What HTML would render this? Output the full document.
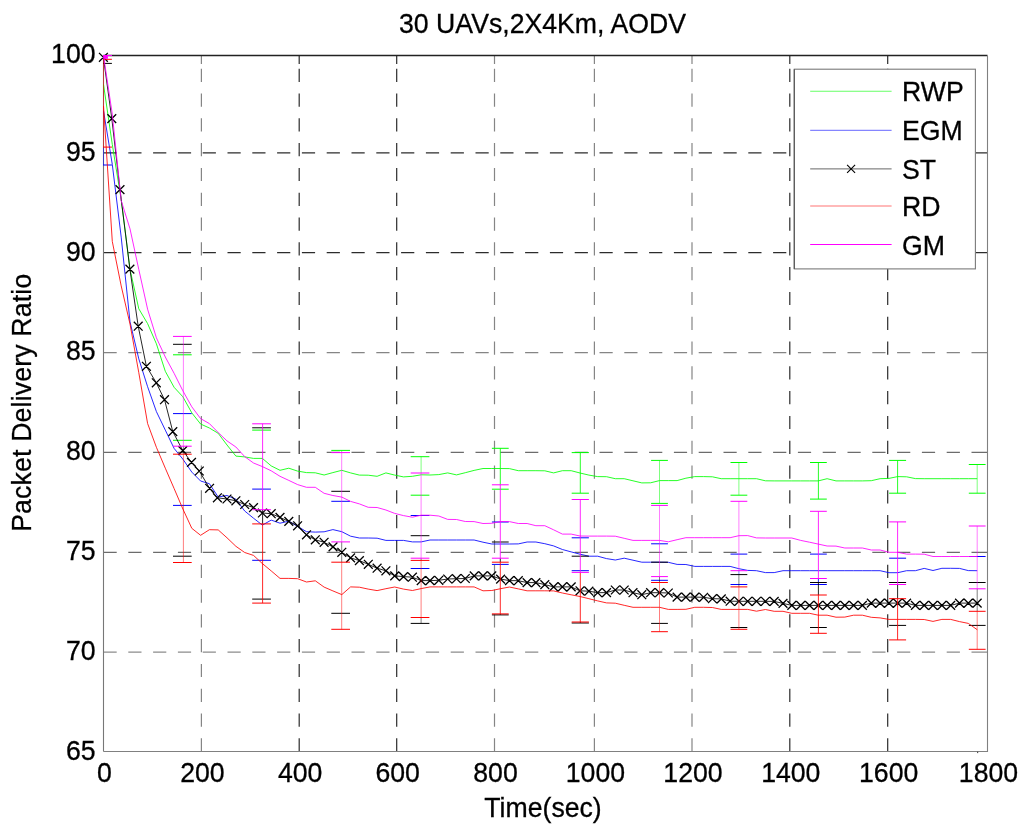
<!DOCTYPE html>
<html lang="en"><head><meta charset="utf-8"><title>30 UAVs,2X4Km, AODV</title>
<style>html,body{margin:0;padding:0;background:#fff}svg{display:block}text{font-family:"Liberation Sans",Arial,sans-serif;font-size:27.5px;fill:#000;stroke:#000;stroke-width:0.3px}</style></head><body>
<svg width="1024" height="826" viewBox="0 0 1024 826">
<rect width="1024" height="826" fill="#fff"/>
<defs><clipPath id="cp"><rect x="103.0" y="55.0" width="885.0" height="697.0"/></clipPath></defs>
<g fill="none" stroke-width="1.2" stroke-dasharray="13.2 11.6">
<path d="M201.4 751.5V66M201.4 64V55.5" stroke="#858585"/>
<path d="M299.2 751.5V66M299.2 64V55.5" stroke="#2c2c2c"/>
<path d="M396.7 751.5V66M396.7 64V55.5" stroke="#2c2c2c"/>
<path d="M494.5 751.5V66M494.5 64V55.5" stroke="#858585"/>
<path d="M594.4 751.5V66M594.4 64V55.5" stroke="#858585"/>
<path d="M692.0 751.5V66M692.0 64V55.5" stroke="#858585"/>
<path d="M789.8 751.5V66M789.8 64V55.5" stroke="#2c2c2c"/>
<path d="M887.7 751.5V66M887.7 64V55.5" stroke="#2c2c2c"/>
<path d="M103.5 152.9H984M984 152.9H987.5" stroke="#2c2c2c"/>
<path d="M103.5 252.7H984M984 252.7H987.5" stroke="#2c2c2c"/>
<path d="M103.5 352.7H984M984 352.7H987.5" stroke="#858585"/>
<path d="M103.5 452.4H984M984 452.4H987.5" stroke="#6c6c6c"/>
<path d="M103.5 552.4H984M984 552.4H987.5" stroke="#6c6c6c"/>
<path d="M103.5 652.1H984M984 652.1H987.5" stroke="#8c8c8c"/>
</g>
<g fill="none" stroke-width="1.1">
<path d="M103.5 55.5H987.5" stroke="#222" stroke-width="1.4"/>
<path d="M103.5 55.5V751.5" stroke="#777"/>
<path d="M987.5 55.5V751.5H103.5" stroke="#808080"/>
</g>
<rect x="977" y="751.5" width="1.2" height="1.6" fill="#555"/>
<g fill="none" stroke="#00ff00" stroke-width="0.85" stroke-linejoin="round">
<path d="M103.5 84.4 L112.3 144.5 L121.2 199.8 L130.0 269.4 L138.8 308.8 L147.6 323.6 L156.4 343.8 L165.3 371.3 L174.1 387.3 L182.9 396.8 L191.8 412.9 L200.6 424.0 L209.4 428.0 L218.2 433.3 L227.0 445.0 L235.9 456.1 L244.7 456.9 L253.5 458.4 L262.4 458.4 L271.2 465.9 L280.0 470.3 L288.8 468.2 L297.6 471.1 L306.5 472.6 L315.3 472.8 L324.1 475.0 L332.9 472.6 L341.8 470.3 L350.6 472.9 L359.4 475.1 L368.2 475.2 L377.1 476.3 L385.9 472.9 L394.7 475.1 L403.5 476.9 L412.4 476.3 L421.2 474.8 L430.0 475.0 L438.8 474.6 L447.7 472.9 L456.5 474.9 L465.3 472.7 L474.1 470.4 L483.0 468.5 L491.8 468.5 L500.6 468.5 L509.4 468.6 L518.3 470.7 L527.1 470.7 L535.9 470.7 L544.8 470.8 L553.6 472.9 L562.4 470.7 L571.2 470.7 L580.0 473.0 L588.9 475.1 L597.7 476.6 L606.5 476.7 L615.3 478.7 L624.2 478.7 L633.0 480.8 L641.8 482.9 L650.6 482.8 L659.5 480.6 L668.3 480.6 L677.1 480.6 L685.9 478.2 L694.8 476.6 L703.6 476.6 L712.4 476.8 L721.2 478.7 L730.1 478.7 L738.9 478.7 L747.7 478.7 L756.5 478.7 L765.4 480.8 L774.2 480.9 L783.0 480.9 L791.8 480.9 L800.7 480.9 L809.5 480.9 L818.3 480.9 L827.1 478.7 L836.0 480.9 L844.8 480.9 L853.6 480.9 L862.4 480.9 L871.3 480.7 L880.1 478.7 L888.9 478.4 L897.7 476.6 L906.6 476.8 L915.4 478.6 L924.2 478.7 L933.0 478.7 L941.9 478.7 L950.7 478.7 L959.5 478.7 L968.3 478.7 L977.2 478.7"/>
<path clip-path="url(#cp)" stroke-width="1" d="M173.0 354.8H191.7M173.0 440.3H191.7M252.2 430.1H270.9M331.3 450.4H350.0M410.7 456.7H429.4M410.7 495.2H429.4M491.9 448.3H508.7M491.9 489.2H508.7M571.7 452.6H588.9M571.7 493.2H588.9M651.1 460.4H667.9M651.1 503.4H667.9M730.5 462.5H747.3M730.5 495.2H747.3M810.0 462.5H826.8M810.0 499.1H826.8M889.1 460.4H906.1M889.1 493.2H906.1M968.8 464.5H985.6M968.8 493.2H985.6"/>
<path clip-path="url(#cp)" d="M500.3 448.3V484.8M580.3 452.6V493.2M818.4 462.5V499.1M897.6 460.4V493.2"/>
<path clip-path="url(#cp)" stroke-opacity="0.6" d="M341.7 450.4V452.6M421.1 456.7V473.0M659.5 460.4V503.4M738.9 462.5V495.2M977.2 464.5V493.2"/>
</g>
<g fill="none" stroke="#0000ff" stroke-width="0.85" stroke-linejoin="round">
<path d="M103.5 110.7 L112.3 164.5 L121.2 237.1 L130.0 321.8 L138.8 358.9 L147.6 386.7 L156.4 411.6 L165.3 430.1 L174.1 448.4 L182.9 459.2 L191.8 472.1 L200.6 481.0 L209.4 483.7 L218.2 497.0 L227.0 495.5 L235.9 499.2 L244.7 511.0 L253.5 518.2 L262.4 525.1 L271.2 520.1 L280.0 523.2 L288.8 521.2 L297.6 526.4 L306.5 531.7 L315.3 532.1 L324.1 531.8 L332.9 529.6 L341.8 531.7 L350.6 536.2 L359.4 538.0 L368.2 538.0 L377.1 538.2 L385.9 540.4 L394.7 540.4 L403.5 540.4 L412.4 541.9 L421.2 541.9 L430.0 540.0 L438.8 540.0 L447.7 540.0 L456.5 540.0 L465.3 540.0 L474.1 540.0 L483.0 542.2 L491.8 544.0 L500.6 544.0 L509.4 544.0 L518.3 543.9 L527.1 542.0 L535.9 542.0 L544.8 543.7 L553.6 545.9 L562.4 549.5 L571.2 551.9 L580.0 554.2 L588.9 556.2 L597.7 556.2 L606.5 558.6 L615.3 560.0 L624.2 558.2 L633.0 560.2 L641.8 562.2 L650.6 562.2 L659.5 562.2 L668.3 562.3 L677.1 564.4 L685.9 564.5 L694.8 566.4 L703.6 566.4 L712.4 566.4 L721.2 566.4 L730.1 566.4 L738.9 568.7 L747.7 570.4 L756.5 570.7 L765.4 572.6 L774.2 572.6 L783.0 570.7 L791.8 570.7 L800.7 570.7 L809.5 570.7 L818.3 570.7 L827.1 570.7 L836.0 570.7 L844.8 570.7 L853.6 570.7 L862.4 570.7 L871.3 570.7 L880.1 570.7 L888.9 572.7 L897.7 572.7 L906.6 570.7 L915.4 570.7 L924.2 568.4 L933.0 570.5 L941.9 568.3 L950.7 568.3 L959.5 568.4 L968.3 570.6 L977.2 570.7"/>
<path clip-path="url(#cp)" stroke-width="1" d="M95.1 165.0H111.9M173.0 413.6H191.7M173.0 505.4H191.7M252.2 489.1H270.9M252.2 560.3H270.9M331.3 501.3H350.0M410.7 515.5H429.4M410.7 568.5H429.4M491.9 522.0H508.7M491.9 564.4H508.7M571.7 537.8H588.9M571.7 570.7H588.9M651.1 543.8H667.9M651.1 580.3H667.9M730.5 554.1H747.3M730.5 584.5H747.3M810.0 554.1H826.8M810.0 584.5H826.8M889.1 558.2H906.1M968.8 556.5H985.6"/>
<path clip-path="url(#cp)" d="M818.4 578.5V582.5"/>
<path clip-path="url(#cp)" stroke-opacity="0.6" d="M103.5 40.0V51.2M103.5 147.1V165.0M738.9 570.7V574.6"/>
</g>
<g fill="none" stroke="#000000" stroke-width="0.85" stroke-linejoin="round">
<path d="M103.4 57.3 L111.8 118.6 L120.0 189.6 L129.9 269.1 L138.2 326.2 L146.4 366.3 L156.3 382.8 L164.5 399.7 L172.8 431.6 L182.8 450.6 L191.5 462.4 L199.3 471.0 L209.6 488.3 L217.4 497.8 L227.0 499.0 L235.9 500.8 L244.7 504.5 L253.5 507.6 L262.4 513.0 L271.2 513.7 L280.0 517.4 L288.8 521.4 L297.6 525.8 L306.5 534.8 L315.3 539.8 L324.1 542.3 L332.9 546.9 L341.8 552.3 L350.6 557.9 L359.4 560.6 L368.2 564.3 L377.1 568.2 L385.9 570.8 L394.7 575.9 L403.5 576.6 L412.4 577.2 L421.2 580.6 L430.0 580.6 L438.8 580.3 L447.7 579.0 L456.5 578.7 L465.3 578.5 L474.1 575.9 L483.0 575.9 L491.8 575.9 L500.6 579.1 L509.4 580.6 L518.3 580.7 L527.1 582.6 L535.9 582.6 L544.8 584.6 L553.6 586.9 L562.4 586.9 L571.2 586.9 L580.0 590.8 L588.9 591.2 L597.7 592.7 L606.5 592.6 L615.3 590.0 L624.2 590.0 L633.0 592.7 L641.8 594.7 L650.6 592.7 L659.5 592.7 L668.3 593.0 L677.1 597.1 L685.9 597.1 L694.8 597.1 L703.6 597.3 L712.4 598.7 L721.2 598.9 L730.1 601.2 L738.9 601.3 L747.7 601.3 L756.5 601.3 L765.4 601.3 L774.2 601.4 L783.0 603.4 L791.8 605.4 L800.7 605.4 L809.5 605.4 L818.3 605.4 L827.1 605.4 L836.0 605.4 L844.8 605.4 L853.6 605.4 L862.4 605.4 L871.3 603.1 L880.1 603.1 L888.9 603.1 L897.7 603.1 L906.6 603.1 L915.4 605.4 L924.2 605.4 L933.0 605.4 L941.9 605.4 L950.7 605.4 L959.5 603.1 L968.3 603.1 L977.2 603.1"/>
<path d="M99.0 52.9l8.8 8.8M99.0 61.7l8.8 -8.8M107.4 114.2l8.8 8.8M107.4 123.0l8.8 -8.8M115.6 185.2l8.8 8.8M115.6 194.0l8.8 -8.8M125.5 264.7l8.8 8.8M125.5 273.5l8.8 -8.8M133.8 321.8l8.8 8.8M133.8 330.6l8.8 -8.8M142.0 361.9l8.8 8.8M142.0 370.7l8.8 -8.8M151.9 378.4l8.8 8.8M151.9 387.2l8.8 -8.8M160.1 395.3l8.8 8.8M160.1 404.1l8.8 -8.8M168.4 427.2l8.8 8.8M168.4 436.0l8.8 -8.8M178.4 446.2l8.8 8.8M178.4 455.0l8.8 -8.8M187.1 458.0l8.8 8.8M187.1 466.8l8.8 -8.8M194.9 466.6l8.8 8.8M194.9 475.4l8.8 -8.8M205.2 483.9l8.8 8.8M205.2 492.7l8.8 -8.8M213.0 493.4l8.8 8.8M213.0 502.2l8.8 -8.8M222.6 494.6l8.8 8.8M222.6 503.4l8.8 -8.8M231.5 496.4l8.8 8.8M231.5 505.2l8.8 -8.8M240.3 500.1l8.8 8.8M240.3 508.9l8.8 -8.8M249.1 503.2l8.8 8.8M249.1 512.0l8.8 -8.8M258.0 508.6l8.8 8.8M258.0 517.4l8.8 -8.8M266.8 509.3l8.8 8.8M266.8 518.1l8.8 -8.8M275.6 513.0l8.8 8.8M275.6 521.8l8.8 -8.8M284.4 517.0l8.8 8.8M284.4 525.8l8.8 -8.8M293.2 521.4l8.8 8.8M293.2 530.2l8.8 -8.8M302.1 530.4l8.8 8.8M302.1 539.2l8.8 -8.8M310.9 535.4l8.8 8.8M310.9 544.2l8.8 -8.8M319.7 537.9l8.8 8.8M319.7 546.7l8.8 -8.8M328.6 542.5l8.8 8.8M328.6 551.3l8.8 -8.8M337.4 547.9l8.8 8.8M337.4 556.7l8.8 -8.8M346.2 553.5l8.8 8.8M346.2 562.3l8.8 -8.8M355.0 556.2l8.8 8.8M355.0 565.0l8.8 -8.8M363.9 559.9l8.8 8.8M363.9 568.7l8.8 -8.8M372.7 563.8l8.8 8.8M372.7 572.6l8.8 -8.8M381.5 566.4l8.8 8.8M381.5 575.2l8.8 -8.8M390.3 571.5l8.8 8.8M390.3 580.3l8.8 -8.8M399.1 572.2l8.8 8.8M399.1 581.0l8.8 -8.8M408.0 572.8l8.8 8.8M408.0 581.6l8.8 -8.8M416.8 576.2l8.8 8.8M416.8 585.0l8.8 -8.8M425.6 576.2l8.8 8.8M425.6 585.0l8.8 -8.8M434.4 575.9l8.8 8.8M434.4 584.7l8.8 -8.8M443.3 574.6l8.8 8.8M443.3 583.4l8.8 -8.8M452.1 574.3l8.8 8.8M452.1 583.1l8.8 -8.8M460.9 574.1l8.8 8.8M460.9 582.9l8.8 -8.8M469.8 571.5l8.8 8.8M469.8 580.3l8.8 -8.8M478.6 571.5l8.8 8.8M478.6 580.3l8.8 -8.8M487.4 571.5l8.8 8.8M487.4 580.3l8.8 -8.8M496.2 574.7l8.8 8.8M496.2 583.5l8.8 -8.8M505.1 576.2l8.8 8.8M505.1 585.0l8.8 -8.8M513.9 576.3l8.8 8.8M513.9 585.1l8.8 -8.8M522.7 578.2l8.8 8.8M522.7 587.0l8.8 -8.8M531.5 578.2l8.8 8.8M531.5 587.0l8.8 -8.8M540.4 580.2l8.8 8.8M540.4 589.0l8.8 -8.8M549.2 582.5l8.8 8.8M549.2 591.3l8.8 -8.8M558.0 582.5l8.8 8.8M558.0 591.3l8.8 -8.8M566.8 582.5l8.8 8.8M566.8 591.3l8.8 -8.8M575.6 586.4l8.8 8.8M575.6 595.2l8.8 -8.8M584.5 586.8l8.8 8.8M584.5 595.6l8.8 -8.8M593.3 588.3l8.8 8.8M593.3 597.1l8.8 -8.8M602.1 588.2l8.8 8.8M602.1 597.0l8.8 -8.8M610.9 585.6l8.8 8.8M610.9 594.4l8.8 -8.8M619.8 585.6l8.8 8.8M619.8 594.4l8.8 -8.8M628.6 588.3l8.8 8.8M628.6 597.1l8.8 -8.8M637.4 590.3l8.8 8.8M637.4 599.1l8.8 -8.8M646.2 588.3l8.8 8.8M646.2 597.1l8.8 -8.8M655.1 588.3l8.8 8.8M655.1 597.1l8.8 -8.8M663.9 588.6l8.8 8.8M663.9 597.4l8.8 -8.8M672.7 592.7l8.8 8.8M672.7 601.5l8.8 -8.8M681.5 592.7l8.8 8.8M681.5 601.5l8.8 -8.8M690.4 592.7l8.8 8.8M690.4 601.5l8.8 -8.8M699.2 592.9l8.8 8.8M699.2 601.7l8.8 -8.8M708.0 594.3l8.8 8.8M708.0 603.1l8.8 -8.8M716.9 594.5l8.8 8.8M716.9 603.3l8.8 -8.8M725.7 596.8l8.8 8.8M725.7 605.6l8.8 -8.8M734.5 596.9l8.8 8.8M734.5 605.7l8.8 -8.8M743.3 596.9l8.8 8.8M743.3 605.7l8.8 -8.8M752.1 596.9l8.8 8.8M752.1 605.7l8.8 -8.8M761.0 596.9l8.8 8.8M761.0 605.7l8.8 -8.8M769.8 597.0l8.8 8.8M769.8 605.8l8.8 -8.8M778.6 599.0l8.8 8.8M778.6 607.8l8.8 -8.8M787.4 601.0l8.8 8.8M787.4 609.8l8.8 -8.8M796.3 601.0l8.8 8.8M796.3 609.8l8.8 -8.8M805.1 601.0l8.8 8.8M805.1 609.8l8.8 -8.8M813.9 601.0l8.8 8.8M813.9 609.8l8.8 -8.8M822.8 601.0l8.8 8.8M822.8 609.8l8.8 -8.8M831.6 601.0l8.8 8.8M831.6 609.8l8.8 -8.8M840.4 601.0l8.8 8.8M840.4 609.8l8.8 -8.8M849.2 601.0l8.8 8.8M849.2 609.8l8.8 -8.8M858.0 601.0l8.8 8.8M858.0 609.8l8.8 -8.8M866.9 598.7l8.8 8.8M866.9 607.5l8.8 -8.8M875.7 598.7l8.8 8.8M875.7 607.5l8.8 -8.8M884.5 598.7l8.8 8.8M884.5 607.5l8.8 -8.8M893.3 598.7l8.8 8.8M893.3 607.5l8.8 -8.8M902.2 598.7l8.8 8.8M902.2 607.5l8.8 -8.8M911.0 601.0l8.8 8.8M911.0 609.8l8.8 -8.8M919.8 601.0l8.8 8.8M919.8 609.8l8.8 -8.8M928.6 601.0l8.8 8.8M928.6 609.8l8.8 -8.8M937.5 601.0l8.8 8.8M937.5 609.8l8.8 -8.8M946.3 601.0l8.8 8.8M946.3 609.8l8.8 -8.8M955.1 598.7l8.8 8.8M955.1 607.5l8.8 -8.8M963.9 598.7l8.8 8.8M963.9 607.5l8.8 -8.8M972.8 598.7l8.8 8.8M972.8 607.5l8.8 -8.8" stroke-width="1.3"/>
<path clip-path="url(#cp)" stroke-width="1" d="M95.1 63.4H111.9M173.0 344.3H191.7M173.0 556.2H191.7M252.2 427.8H270.9M252.2 599.1H270.9M331.3 491.3H350.0M331.3 613.3H350.0M410.7 535.7H429.4M410.7 623.4H429.4M491.9 542.0H508.7M491.9 614.9H508.7M571.7 556.2H588.9M571.7 623.0H588.9M651.1 562.2H667.9M651.1 623.4H667.9M730.5 574.6H747.3M730.5 627.5H747.3M810.0 582.5H826.8M810.0 627.5H826.8M889.1 582.5H906.1M889.1 625.4H906.1M968.8 582.5H985.6M968.8 625.4H985.6"/>
<path clip-path="url(#cp)" d="M262.6 509.7V523.9M500.3 558.2V562.2M500.3 613.9V614.9M580.3 622.0V623.0M818.4 582.5V595.0M897.6 584.5V598.7"/>
<path clip-path="url(#cp)" stroke-opacity="0.6" d="M103.5 51.2V59.3M183.4 446.2V454.2M341.7 541.9V562.2M421.1 558.2V560.4M421.1 617.5V623.4M659.5 576.6V582.5M738.9 574.6V586.9M977.2 588.8V611.3"/>
</g>
<g fill="none" stroke="#ff0000" stroke-width="0.85" stroke-linejoin="round">
<path d="M103.5 106.0 L112.3 241.5 L121.2 285.9 L130.0 324.0 L138.8 372.7 L147.6 423.5 L156.4 447.3 L165.3 468.2 L174.1 488.5 L182.9 509.0 L191.8 528.3 L200.6 535.3 L209.4 529.7 L218.2 529.9 L227.0 537.8 L235.9 546.3 L244.7 552.5 L253.5 555.4 L262.4 563.6 L271.2 570.9 L280.0 578.4 L288.8 578.4 L297.6 578.7 L306.5 582.0 L315.3 580.8 L324.1 587.1 L332.9 590.9 L341.8 594.6 L350.6 586.9 L359.4 587.2 L368.2 589.1 L377.1 590.6 L385.9 588.7 L394.7 587.0 L403.5 589.1 L412.4 590.5 L421.2 588.6 L430.0 586.9 L438.8 586.9 L447.7 586.9 L456.5 586.9 L465.3 586.9 L474.1 586.9 L483.0 590.8 L491.8 590.5 L500.6 588.7 L509.4 587.0 L518.3 588.9 L527.1 590.8 L535.9 590.8 L544.8 590.8 L553.6 590.9 L562.4 593.0 L571.2 594.8 L580.0 596.5 L588.9 598.7 L597.7 600.9 L606.5 602.9 L615.3 603.2 L624.2 605.3 L633.0 607.3 L641.8 607.3 L650.6 607.3 L659.5 607.3 L668.3 609.4 L677.1 609.4 L685.9 609.3 L694.8 607.3 L703.6 607.3 L712.4 607.5 L721.2 609.4 L730.1 609.4 L738.9 609.4 L747.7 609.4 L756.5 611.2 L765.4 609.5 L774.2 611.3 L783.0 611.3 L791.8 613.3 L800.7 613.3 L809.5 613.3 L818.3 615.2 L827.1 615.2 L836.0 617.2 L844.8 617.1 L853.6 615.2 L862.4 615.2 L871.3 617.3 L880.1 617.9 L888.9 619.4 L897.7 619.4 L906.6 619.4 L915.4 619.4 L924.2 619.5 L933.0 621.4 L941.9 619.4 L950.7 619.4 L959.5 621.6 L968.3 623.4 L977.2 629.7"/>
<path clip-path="url(#cp)" stroke-width="1" d="M95.1 59.3H111.9M95.1 147.1H111.9M173.0 454.2H191.7M173.0 562.5H191.7M252.2 523.9H270.9M252.2 603.1H270.9M331.3 562.2H350.0M331.3 629.3H350.0M410.7 560.4H429.4M410.7 617.5H429.4M491.9 562.2H508.7M491.9 613.9H508.7M571.7 622.0H588.9M651.1 582.5H667.9M651.1 631.7H667.9M730.5 586.9H747.3M730.5 629.3H747.3M810.0 595.0H826.8M810.0 633.3H826.8M889.1 598.7H906.1M889.1 639.9H906.1M968.8 611.3H985.6M968.8 649.3H985.6"/>
<path clip-path="url(#cp)" d="M262.6 523.9V603.1M500.3 562.2V613.9M580.3 572.4V622.0M818.4 595.0V633.3M897.6 598.7V639.9"/>
<path clip-path="url(#cp)" stroke-opacity="0.6" d="M103.5 59.3V147.1M183.4 454.2V562.5M341.7 562.2V629.3M421.1 560.4V617.5M659.5 582.5V631.7M738.9 586.9V629.3M977.2 611.3V649.3"/>
</g>
<g fill="none" stroke="#ff00ff" stroke-width="0.85" stroke-linejoin="round">
<path d="M103.5 55.5 L112.3 114.3 L121.2 200.6 L130.0 228.8 L138.8 269.5 L147.6 309.2 L156.4 337.8 L165.3 357.0 L174.1 373.3 L182.9 390.9 L191.8 406.8 L200.6 418.6 L209.4 423.6 L218.2 432.5 L227.0 440.9 L235.9 447.0 L244.7 456.6 L253.5 463.0 L262.4 466.6 L271.2 470.8 L280.0 476.3 L288.8 480.4 L297.6 484.6 L306.5 487.3 L315.3 487.3 L324.1 493.3 L332.9 495.5 L341.8 497.1 L350.6 501.4 L359.4 503.9 L368.2 507.3 L377.1 507.5 L385.9 510.0 L394.7 513.4 L403.5 515.6 L412.4 517.2 L421.2 515.2 L430.0 515.2 L438.8 516.0 L447.7 519.4 L456.5 519.5 L465.3 521.5 L474.1 521.6 L483.0 523.5 L491.8 523.3 L500.6 521.5 L509.4 521.6 L518.3 523.5 L527.1 523.5 L535.9 525.7 L544.8 525.7 L553.6 529.8 L562.4 534.1 L571.2 534.1 L580.0 536.0 L588.9 536.1 L597.7 536.1 L606.5 536.1 L615.3 536.2 L624.2 538.3 L633.0 540.4 L641.8 540.4 L650.6 540.4 L659.5 540.4 L668.3 541.8 L677.1 539.7 L685.9 537.7 L694.8 537.7 L703.6 537.7 L712.4 537.7 L721.2 537.7 L730.1 537.7 L738.9 535.7 L747.7 535.6 L756.5 537.9 L765.4 538.0 L774.2 538.0 L783.0 538.0 L791.8 538.0 L800.7 540.4 L809.5 542.2 L818.3 544.1 L827.1 546.0 L836.0 546.1 L844.8 548.0 L853.6 548.0 L862.4 548.0 L871.3 550.0 L880.1 550.0 L888.9 552.3 L897.7 552.3 L906.6 554.1 L915.4 554.1 L924.2 554.2 L933.0 556.5 L941.9 556.5 L950.7 556.5 L959.5 556.5 L968.3 556.5 L977.2 556.5"/>
<path clip-path="url(#cp)" stroke-width="1" d="M95.1 55.5H111.9M95.1 55.5H111.9M173.0 336.4H191.7M173.0 446.2H191.7M252.2 423.8H270.9M252.2 509.7H270.9M331.3 452.6H350.0M331.3 541.9H350.0M410.7 473.0H429.4M410.7 558.2H429.4M491.9 484.8H508.7M491.9 558.2H508.7M571.7 499.5H588.9M571.7 572.4H588.9M651.1 505.4H667.9M651.1 576.6H667.9M730.5 501.3H747.3M730.5 570.7H747.3M810.0 511.3H826.8M810.0 578.5H826.8M889.1 521.9H906.1M889.1 584.5H906.1M968.8 526.0H985.6M968.8 588.8H985.6"/>
<path clip-path="url(#cp)" d="M262.6 423.8V509.7M500.3 484.8V558.2M580.3 499.5V572.4M818.4 511.3V578.5M897.6 521.9V584.5"/>
<path clip-path="url(#cp)" stroke-opacity="0.6" d="M183.4 336.4V446.2M341.7 452.6V541.9M421.1 473.0V558.2M659.5 505.4V576.6M738.9 501.3V570.7M977.2 526.0V588.8"/>
</g>
<rect x="103.5" y="55.2" width="4.4" height="3.6" fill="#ff00ff"/>
<rect x="794.3" y="69.2" width="181.1" height="199.7" fill="#fff" stroke="#7a7a7a" stroke-width="1.1"/>
<path d="M810.2 91.25H891.6" stroke="#00ff00" stroke-width="1" stroke-opacity="0.6" fill="none"/>
<text transform="translate(902.0 101.3) scale(0.9698 1)" text-anchor="start">RWP</text>
<path d="M810.2 130.30H891.6" stroke="#0000ff" stroke-width="1" stroke-opacity="0.6" fill="none"/>
<text transform="translate(902.0 140.4) scale(0.9698 1)" text-anchor="start">EGM</text>
<path d="M810.2 168.90H891.6" stroke="#000000" stroke-width="1" stroke-opacity="0.6" fill="none"/>
<path d="M847.1 164.9l8.0 8.0M847.1 172.9l8.0 -8.0" stroke="#000" stroke-width="1.1" fill="none"/>
<text transform="translate(902.0 179.0) scale(0.9698 1)" text-anchor="start">ST</text>
<path d="M810.2 206.00H891.6" stroke="#ff0000" stroke-width="1" stroke-opacity="0.55" fill="none"/>
<text transform="translate(902.0 216.1) scale(0.9698 1)" text-anchor="start">RD</text>
<path d="M810.2 244.50H891.6" stroke="#ff00ff" stroke-width="1" stroke-opacity="1" fill="none"/>
<text transform="translate(902.0 254.6) scale(0.9698 1)" text-anchor="start">GM</text>
<path d="M794.3 69.2V268.9" stroke="#5a5a5a" stroke-width="1.2" fill="none"/>
<text transform="translate(104.5 782.3) scale(0.9698 1)" text-anchor="middle">0</text>
<text transform="translate(202.4 782.3) scale(0.9698 1)" text-anchor="middle">200</text>
<text transform="translate(300.2 782.3) scale(0.9698 1)" text-anchor="middle">400</text>
<text transform="translate(397.7 782.3) scale(0.9698 1)" text-anchor="middle">600</text>
<text transform="translate(495.5 782.3) scale(0.9698 1)" text-anchor="middle">800</text>
<text transform="translate(595.4 782.3) scale(0.9698 1)" text-anchor="middle">1000</text>
<text transform="translate(693.0 782.3) scale(0.9698 1)" text-anchor="middle">1200</text>
<text transform="translate(790.8 782.3) scale(0.9698 1)" text-anchor="middle">1400</text>
<text transform="translate(888.7 782.3) scale(0.9698 1)" text-anchor="middle">1600</text>
<text transform="translate(988.5 782.3) scale(0.9698 1)" text-anchor="middle">1800</text>
<text transform="translate(95.6 63.1) scale(0.9698 1)" text-anchor="end">100</text>
<text transform="translate(95.6 160.8) scale(0.9698 1)" text-anchor="end">95</text>
<text transform="translate(95.6 260.9) scale(0.9698 1)" text-anchor="end">90</text>
<text transform="translate(95.6 360.2) scale(0.9698 1)" text-anchor="end">85</text>
<text transform="translate(95.6 460.2) scale(0.9698 1)" text-anchor="end">80</text>
<text transform="translate(95.6 559.8) scale(0.9698 1)" text-anchor="end">75</text>
<text transform="translate(95.6 659.6) scale(0.9698 1)" text-anchor="end">70</text>
<text transform="translate(95.6 759.9) scale(0.9698 1)" text-anchor="end">65</text>
<text transform="translate(542.5 33.4) scale(0.9698 1)" text-anchor="middle">30 UAVs,2X4Km, AODV</text>
<text transform="translate(543.0 816.7) scale(0.9698 1)" text-anchor="middle">Time(sec)</text>
<text transform="translate(30.8 402.8) rotate(-90) scale(0.9698181818181819 1)" text-anchor="middle" textLength="266.2" lengthAdjust="spacing">Packet Delivery Ratio</text>
</svg></body></html>
